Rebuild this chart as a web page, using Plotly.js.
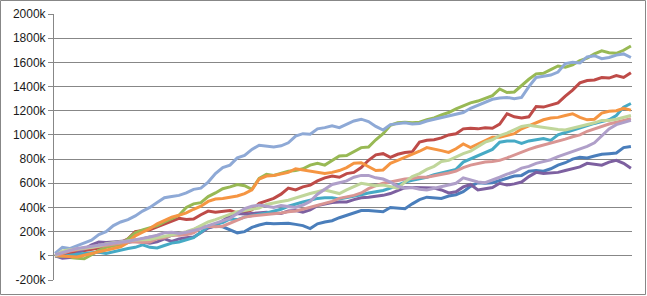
<!DOCTYPE html>
<html>
<head>
<meta charset="utf-8">
<script src="https://cdn.plot.ly/plotly-3.0.1.min.js"></script>
<style>
  html, body { margin: 0; padding: 0; background: #fff; }
  #chart { width: 647px; height: 296px; }
</style>
</head>
<body>
<div id="chart"></div>
<script>
// Values in thousands (k) at 80 evenly spaced positions
const seriesBlue = [0,15,25,40,55,70,80,90,90,95,110,125,145,155,145,150,170,180,195,215,245,235,245,240,215,190,200,235,255,270,265,270,270,260,250,225,265,280,290,315,335,360,375,375,370,365,400,395,390,430,465,485,480,475,495,505,530,575,605,600,605,625,645,660,665,700,705,700,720,750,770,800,815,810,825,840,845,850,895,905];
const seriesRed = [0,10,25,30,45,55,60,75,90,110,140,200,210,215,240,265,285,310,300,305,340,370,360,365,375,355,360,380,435,455,475,510,560,545,570,585,620,645,660,650,680,690,730,790,835,845,815,840,855,860,940,955,960,975,1000,1010,1050,1055,1050,1060,1055,1090,1175,1150,1140,1150,1235,1230,1245,1265,1320,1370,1430,1450,1455,1475,1470,1490,1475,1515];
const seriesGreen = [0,-10,-15,-20,-25,10,45,70,85,95,140,190,215,235,250,280,305,335,400,430,440,490,520,555,570,590,580,550,640,675,665,680,700,705,720,750,765,750,785,825,830,860,895,900,960,1010,1080,1100,1105,1100,1105,1125,1140,1165,1185,1215,1240,1265,1280,1300,1325,1380,1350,1355,1410,1460,1505,1510,1540,1570,1560,1580,1615,1635,1670,1695,1680,1675,1700,1735];
const seriesPurple = [0,-20,-15,20,60,90,115,110,115,120,125,130,115,105,115,140,120,140,150,155,190,230,250,290,330,350,345,350,355,360,355,350,370,375,360,380,415,430,440,445,445,465,480,485,490,500,515,540,565,565,565,565,560,545,520,530,570,590,545,555,565,600,585,595,610,655,690,680,685,690,705,720,735,765,760,750,775,790,765,725];
const seriesAqua = [0,-5,5,15,20,25,30,20,35,45,60,70,90,70,65,85,105,115,135,150,195,240,260,275,305,300,320,335,345,355,370,385,410,430,445,460,475,480,480,470,480,495,505,520,530,540,560,585,610,625,635,650,670,685,700,715,775,800,830,850,880,940,950,950,930,950,960,970,955,1000,1020,1040,1060,1080,1095,1110,1125,1160,1230,1260];
const seriesOrange = [0,-5,-10,-10,5,20,35,50,60,75,110,165,195,225,265,295,320,335,355,385,410,450,470,475,485,495,515,545,635,660,665,675,690,720,710,700,690,680,690,705,730,765,770,740,705,710,765,790,815,835,865,895,885,870,855,885,925,895,925,950,980,980,995,1010,1050,1075,1100,1125,1140,1145,1160,1175,1145,1125,1130,1180,1195,1200,1220,1205];
const seriesLightBlue = [20,70,60,85,110,130,175,200,250,280,300,330,370,400,440,480,490,500,520,550,560,610,680,730,750,810,830,880,915,905,900,910,935,990,1010,1005,1050,1060,1075,1060,1090,1115,1130,1110,1070,1040,1085,1095,1100,1090,1095,1115,1130,1140,1155,1170,1185,1220,1245,1275,1295,1305,1310,1300,1310,1400,1475,1485,1495,1520,1590,1600,1595,1645,1655,1630,1640,1660,1670,1640];
const seriesPink = [0,20,40,50,60,65,75,90,95,110,115,115,110,115,140,150,170,170,175,190,230,245,240,245,270,300,320,330,335,345,350,355,365,370,385,400,415,430,450,475,485,500,520,555,580,600,610,625,635,640,650,650,660,670,685,700,730,750,765,775,780,790,810,835,860,880,900,915,930,950,965,985,1000,1030,1050,1075,1090,1105,1120,1135];
const seriesLightGreen = [0,40,50,60,65,70,80,100,110,115,125,130,130,135,150,160,170,185,200,220,250,280,300,320,345,365,375,385,395,425,440,450,460,480,495,515,530,545,530,515,545,575,600,590,580,585,570,560,610,655,680,715,740,780,790,820,845,865,900,940,960,995,1015,1040,1070,1080,1070,1060,1055,1045,1040,1055,1065,1085,1100,1120,1120,1130,1145,1160];
const seriesLightPurple = [10,30,45,60,70,80,90,100,110,115,120,130,140,155,170,190,195,185,195,210,225,250,270,295,310,350,390,410,420,410,400,415,410,400,420,450,510,550,590,605,620,650,665,665,645,635,610,575,560,565,550,545,560,570,590,600,645,630,610,605,625,650,675,695,725,740,765,780,795,820,840,865,880,905,935,990,1050,1085,1100,1120];

const seriesList = [seriesBlue, seriesRed, seriesGreen, seriesPurple, seriesAqua, seriesOrange,
                    seriesLightBlue, seriesPink, seriesLightGreen, seriesLightPurple];
const seriesColors = ['#4A7EBB','#BE4B48','#98B954','#7D60A0','#46AAC5','#F59542',
                      '#8EA9D6','#D99593','#C0D69A','#AF9FC9'];
const yTickValues = [-200,0,200,400,600,800,1000,1200,1400,1600,1800,2000];
const yTickLabels = yTickValues.map(v => (v === 0 ? '' : String(v)) + 'k');

const traces = seriesList.map((vals, k) => ({
  type: 'scatter',
  mode: 'lines',
  x: vals.map((_, i) => i),
  y: vals,
  line: { color: seriesColors[k], width: 3 },
  hoverinfo: 'skip',
  showlegend: false
}));

const L = 54, R = 15, T = 14, B = 16, W = 647, H = 296;
const pw = W - L - R, ph = H - T - B;

const layout = {
  width: W, height: H,
  margin: { l: L, r: R, t: T, b: B, pad: 0 },
  paper_bgcolor: '#ffffff',
  plot_bgcolor: '#ffffff',
  showlegend: false,
  font: { family: '"Liberation Sans", Arial, sans-serif', size: 12, color: '#1a1a1a' },
  xaxis: {
    range: [-0.15, seriesBlue.length - 1 + 0.15],
    showgrid: false, zeroline: false, showline: false,
    showticklabels: false, ticks: ''
  },
  yaxis: {
    range: [-200, 2000],
    tickmode: 'array',
    tickvals: yTickValues,
    ticktext: yTickLabels,
    showgrid: true, gridcolor: '#878787', gridwidth: 1,
    zeroline: false,
    showline: true, linecolor: '#878787', linewidth: 1,
    ticks: 'outside', ticklen: 5, tickcolor: '#878787', tickwidth: 1,
    tickfont: { family: '"Liberation Sans", Arial, sans-serif', size: 12, color: '#1a1a1a' }
  },
  shapes: [{
    type: 'rect', xref: 'paper', yref: 'paper',
    x0: (0.5 - L) / pw, x1: (645.5 - L) / pw,
    y0: (H - B - 294.5) / ph, y1: (H - B - 0.5) / ph,
    line: { color: '#878787', width: 1 },
    fillcolor: 'rgba(0,0,0,0)',
    layer: 'above'
  }]
};

Plotly.newPlot('chart', traces, layout, { staticPlot: true, displayModeBar: false });
</script>
</body>
</html>
